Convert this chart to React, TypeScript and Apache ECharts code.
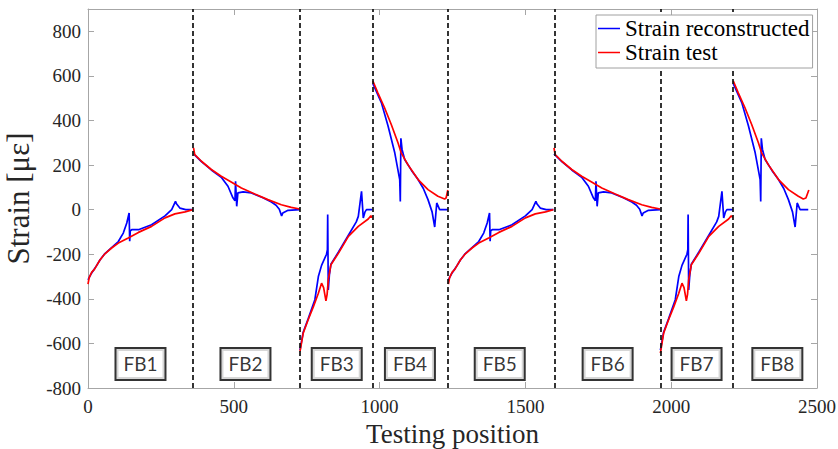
import React, { useEffect, useRef } from "react";
import * as echarts from "echarts";

type Pt = [number, number];

// Strain reconstructed (blue) and Strain test (red), per fibre segment
const fb1Recon: Pt[] = [[0,-315],[12,-285],[30,-250],[41,-226],[58,-197],[81,-170],[104,-143],[121,-105],[133,-60],[141,-15],[143,-142],[145,-95],[150,-90],[173,-90],[218,-68],[264,-28],[287,0],[300,37],[304,25],[315,7],[335,0],[360,0]];
const fb1Test: Pt[] = [[0,-334],[4,-305],[13,-280],[22,-268],[30,-250],[41,-226],[58,-198],[81,-172],[104,-150],[138,-127],[173,-102],[218,-75],[264,-37],[298,-19],[333,-10],[360,0]];
const fb2Recon: Pt[] = [[362,250],[389,215],[423,178],[457,145],[480,105],[497,53],[504,40],[506,127],[510,15],[514,75],[532,80],[560,75],[600,53],[629,34],[645,20],[656,2],[664,-28],[668,-15],[686,-3],[727,0]];
const fb2Test: Pt[] = [[362,277],[366,247],[389,217],[423,180],[457,150],[491,124],[526,97],[572,70],[617,45],[663,22],[697,10],[726,3]];
const fb3Recon: Pt[] = [[727,-630],[738,-550],[755,-490],[778,-404],[790,-300],[801,-250],[818,-200],[821,-180],[822,-22],[824,-360],[828,-290],[833,-245],[859,-190],[893,-115],[920,-55],[927,-30],[938,82],[944,-37],[950,-10],[955,0],[975,0]];
const fb3Test: Pt[] = [[727,-637],[738,-554],[755,-494],[773,-435],[790,-375],[801,-330],[808,-350],[816,-409],[820,-380],[824,-315],[833,-247],[859,-195],[893,-120],[927,-75],[961,-42],[970,-27],[975,-35]];
const fb4Recon: Pt[] = [[977,565],[1006,480],[1029,375],[1052,255],[1069,135],[1071,37],[1073,320],[1077,270],[1086,225],[1110,175],[1132,135],[1150,95],[1166,45],[1180,-10],[1189,-78],[1196,30],[1206,0],[1234,0]];
const fb4Test: Pt[] = [[977,577],[994,524],[1017,457],[1040,382],[1063,300],[1074,255],[1097,202],[1132,135],[1166,90],[1200,60],[1223,48],[1228,52],[1234,88]];
const fb5Recon: Pt[] = [[1236,-315],[1248,-285],[1266,-250],[1277,-226],[1294,-197],[1317,-170],[1340,-143],[1357,-105],[1369,-60],[1377,-15],[1379,-142],[1381,-95],[1386,-90],[1409,-90],[1454,-68],[1500,-28],[1523,0],[1536,37],[1540,25],[1551,7],[1571,0],[1596,0]];
const fb5Test: Pt[] = [[1236,-334],[1240,-305],[1249,-280],[1258,-268],[1266,-250],[1277,-226],[1294,-198],[1317,-172],[1340,-150],[1374,-127],[1409,-102],[1454,-75],[1500,-37],[1534,-19],[1569,-10],[1596,0]];
const fb6Recon: Pt[] = [[1598,250],[1625,215],[1659,178],[1693,145],[1716,105],[1733,53],[1740,40],[1742,127],[1746,15],[1750,75],[1768,80],[1796,75],[1836,53],[1865,34],[1881,20],[1892,2],[1900,-28],[1904,-15],[1922,-3],[1963,0]];
const fb6Test: Pt[] = [[1598,277],[1602,247],[1625,217],[1659,180],[1693,150],[1727,124],[1762,97],[1808,70],[1853,45],[1899,22],[1933,10],[1962,3]];
const fb7Recon: Pt[] = [[1963,-630],[1974,-550],[1991,-490],[2014,-404],[2026,-300],[2037,-250],[2054,-200],[2057,-180],[2058,-22],[2060,-360],[2064,-290],[2069,-245],[2095,-190],[2129,-115],[2156,-55],[2163,-30],[2174,82],[2180,-37],[2186,-10],[2191,0],[2211,0]];
const fb7Test: Pt[] = [[1963,-644],[1974,-554],[1991,-494],[2009,-435],[2026,-375],[2037,-330],[2044,-350],[2052,-409],[2056,-380],[2060,-315],[2069,-247],[2095,-195],[2129,-120],[2163,-75],[2197,-42],[2206,-27],[2211,-35]];
const fb8Recon: Pt[] = [[2213,565],[2242,480],[2265,375],[2288,255],[2305,135],[2307,37],[2309,320],[2313,270],[2322,225],[2346,175],[2368,135],[2386,95],[2402,45],[2416,-10],[2425,-78],[2432,30],[2442,0],[2470,0]];
const fb8Test: Pt[] = [[2213,577],[2230,524],[2253,457],[2276,382],[2299,300],[2310,255],[2333,202],[2368,135],[2402,90],[2436,60],[2453,48],[2462,52],[2472,88]];

// Segment boundaries (dashed lines) and box labels
const boundaries = [360, 727, 975, 1235, 1599, 1963, 2212];
const boxLabels = ["FB1", "FB2", "FB3", "FB4", "FB5", "FB6", "FB7", "FB8"];
const boxCenters = [180, 540, 853, 1104, 1412, 1782, 2087, 2364];
const boxValue = -692;

const xTickStep = 500;
const yTickStep = 200;

const reconSegments = [fb1Recon, fb2Recon, fb3Recon, fb4Recon, fb5Recon, fb6Recon, fb7Recon, fb8Recon];
const testSegments = [fb1Test, fb2Test, fb3Test, fb4Test, fb5Test, fb6Test, fb7Test, fb8Test];

const joinSegments = (segs: Pt[][]) =>
  segs.flatMap((seg) => [...seg, [seg[seg.length - 1][0], null] as any]);

const SERIF = "Liberation Serif";
const TXT = "#262626";
const BOX = "#a6a6a6";

export default function App() {
  const ref = useRef<HTMLDivElement>(null);
  useEffect(() => {
    if (!ref.current) return;
    const chart = echarts.init(ref.current, undefined, { renderer: "svg" });
    const axisCommonX = {
      type: "value" as const,
      min: 0,
      max: 2500,
      interval: xTickStep,
      splitLine: { show: false },
      axisLine: { show: true, onZero: false, lineStyle: { color: BOX, width: 1 } },
      axisTick: { show: true, inside: true, length: 6, lineStyle: { color: BOX } },
    };
    const axisCommonY = {
      type: "value" as const,
      min: -800,
      max: 900,
      interval: yTickStep,
      splitLine: { show: false },
      axisLine: { show: true, onZero: false, lineStyle: { color: BOX, width: 1 } },
      axisTick: { show: true, inside: true, length: 6, lineStyle: { color: BOX } },
    };
    chart.setOption({
      animation: false,
      grid: { left: 88, right: 21, top: 9, bottom: 61, outerBoundsMode: "none", containLabel: false },
      xAxis: [
        {
          ...axisCommonX,
          position: "bottom",
          name: "Testing position",
          nameLocation: "middle",
          nameGap: 32,
          nameTextStyle: { fontFamily: SERIF, fontSize: 27, color: TXT },
          axisLabel: {
            fontFamily: SERIF,
            fontSize: 19,
            color: TXT,
            margin: 9,
            formatter: (v: number) => String(v),
          },
        },
        { ...axisCommonX, position: "top", axisLabel: { show: false } },
      ],
      yAxis: [
        {
          ...axisCommonY,
          position: "left",
          name: "Strain [με]",
          nameLocation: "middle",
          nameGap: 54,
          nameRotate: 90,
          nameTextStyle: { fontFamily: SERIF, fontSize: 31, color: TXT },
          axisLabel: {
            fontFamily: SERIF,
            fontSize: 19,
            color: TXT,
            margin: 7,
            formatter: (v: number) => (v > 800 ? "" : String(v)),
          },
        },
        { ...axisCommonY, position: "right", axisLabel: { show: false } },
      ],
      legend: {
        orient: "vertical",
        left: 596,
        top: 15,
        data: [
          { name: "Strain reconstructed", icon: "rect" },
          { name: "Strain test", icon: "rect" },
        ],
        itemWidth: 22,
        itemHeight: 1.5,
        itemGap: 1,
        padding: [2, 3, 4, 2],
        backgroundColor: "#ffffff",
        borderColor: "#a0a0a0",
        borderWidth: 1,
        borderRadius: 0,
        textStyle: { fontFamily: SERIF, fontSize: 23, lineHeight: 23, color: "#000" },
        z: 10,
      },
      series: [
        {
          name: "Strain reconstructed",
          type: "line",
          data: joinSegments(reconSegments),
          symbol: "none",
          showSymbol: false,
          connectNulls: false,
          color: "#0000ff",
          lineStyle: { color: "#0000ff", width: 1.7 },
          z: 3,
          markLine: {
            silent: true,
            symbol: ["none", "none"],
            label: { show: false },
            lineStyle: { type: [5, 3], color: "#111111", width: 1.7 },
            data: boundaries.map((b) => ({ xAxis: b })),
          },
        },
        {
          name: "Strain test",
          type: "line",
          data: joinSegments(testSegments),
          symbol: "none",
          showSymbol: false,
          connectNulls: false,
          color: "#ff0000",
          lineStyle: { color: "#ff0000", width: 1.7 },
          z: 4,
        },
        {
          name: "labels",
          type: "scatter",
          symbol: "rect",
          symbolSize: 1,
          itemStyle: { color: "rgba(0,0,0,0)" },
          z: 6,
          data: boxCenters.map((c, i) => [c, boxValue, boxLabels[i]]),
          label: {
            show: true,
            position: "inside",
            formatter: (p: any) => p.data[2],
            fontFamily: "Lato",
            fontSize: 19,
            color: "#000",
            textBorderWidth: 0,
            width: 48,
            height: 30,
            lineHeight: 30,
            align: "center",
            verticalAlign: "middle",
            borderColor: "#000",
            borderWidth: 2,
            backgroundColor: "#fff",
          },
        },
      ],
    });
    return () => chart.dispose();
  }, []);
  return (
    <div
      ref={ref}
      style={{ position: "fixed", left: 0, top: 0, width: 838, height: 449, background: "#fff" }}
    />
  );
}
